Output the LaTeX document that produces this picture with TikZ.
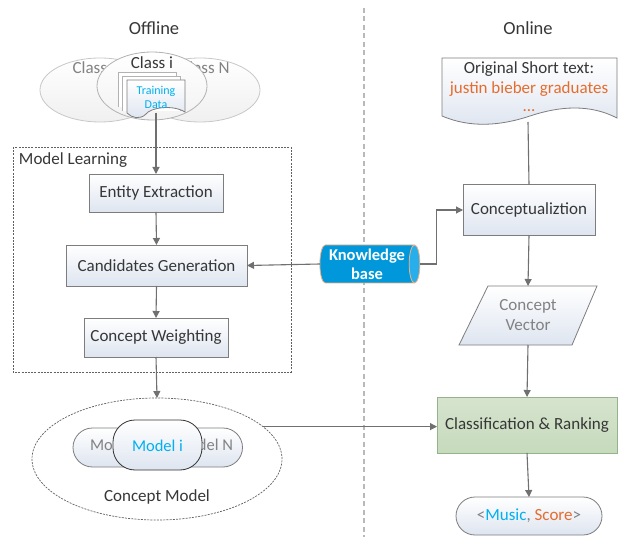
\documentclass[tikz,border=0pt]{standalone}
\usepackage{fontspec}
\setmainfont{Carlito}
\usetikzlibrary{arrows.meta,shapes.geometric}
\definecolor{ln}{RGB}{112,112,112}
\definecolor{bd}{RGB}{125,125,125}
\definecolor{boxbot}{RGB}{222,229,240}
\definecolor{txt}{RGB}{55,55,55}
\definecolor{gtxt}{RGB}{130,130,130}
\definecolor{lblue}{RGB}{0,176,240}
\definecolor{orng}{RGB}{230,108,45}
\definecolor{greenfill}{RGB}{214,228,206}
\definecolor{greenbot}{RGB}{198,218,188}
\definecolor{greenbd}{RGB}{150,178,140}
\definecolor{kbblue}{RGB}{0,152,218}
\definecolor{kbend}{RGB}{40,175,235}
\definecolor{kbbd}{RGB}{235,175,135}
\definecolor{ellbd}{RGB}{200,200,200}
\begin{document}
\begin{tikzpicture}[x=1pt,y=-1pt,
  every node/.style={inner sep=0pt, outer sep=0pt},
  big/.style={font=\fontsize{17}{20}\selectfont},
  flowbox/.style={draw=bd, line width=0.9pt, top color=white, bottom color=boxbot, rectangle, big, text=txt},
  arr/.style={draw=ln, line width=1.1pt, -{Triangle[length=7pt,width=7pt]}},
  plain/.style={draw=ln, line width=1.1pt},
  softell/.style={ellipse, draw=ellbd, line width=0.8pt, top color=white, bottom color=gray!12},
  pill/.style={draw=bd, line width=0.8pt, top color=white, bottom color=boxbot, rounded corners=#1},
  dashframe/.style={draw=gray!75!black, line width=0.7pt, dash pattern=on 2pt off 1.2pt}
]
\useasboundingbox (0,0) rectangle (621,537);
\fill[white] (0,0) rectangle (621,537);

% headers and separator
\node[font=\fontsize{18.5}{20}\selectfont, text=txt] (off) at (154,28) {Offline};
\node[font=\fontsize{18.5}{20}\selectfont, text=txt] (on) at (528,28) {Online};
\draw[draw=gray!55, line width=1.3pt, dash pattern=on 5pt off 3.5pt] (364,8) -- (364,537);

% classes
\node[softell, minimum width=120, minimum height=64] (c1) at (100,90) {};
\node[softell, minimum width=120, minimum height=64] (cn) at (200,90) {};
\node[font=\fontsize{17}{20}\selectfont, text=gtxt] (c1t) at (96,68) {Class 1};
\node[font=\fontsize{17}{20}\selectfont, text=gtxt] (cnt) at (205,68) {Class N};
\node[ellipse, draw=gray!60, line width=0.8pt, top color=white, bottom color=gray!10, minimum width=110, minimum height=68] (ci) at (152,86) {};
\node[font=\fontsize{17}{20}\selectfont, text=txt] (cit) at (152,63) {Class i};

% training data (multiple documents)
\draw[draw=gray!60, fill=white, line width=0.7pt] (118,107) -- (118,72) -- (176,72) -- (176,107);
\draw[draw=gray!60, fill=white, line width=0.7pt] (122,111) -- (122,76) -- (180,76) -- (180,111);
\draw[draw=bd, line width=0.8pt, top color=white, bottom color=boxbot]
  (127,80) -- (185,80) -- (185,112) .. controls (172,104) and (150,108) .. (146,114) .. controls (140,120) and (132,118) .. (127,113) -- cycle;
\node[font=\fontsize{12}{14}\selectfont, text=lblue, align=center] (td) at (156,97) {Training\\Data};
\coordinate (tdb) at (156,113);

% model learning frame
\draw[dashframe] (13,147) rectangle (291,372);
\node[big, text=txt, anchor=west] (mlt) at (19,160) {Model Learning};

\node[flowbox, minimum width=134, minimum height=38] (ent) at (156,193) {Entity Extraction};
\node[flowbox, minimum width=181, minimum height=41] (cand) at (156.5,265.5) {Candidates Generation};
\node[flowbox, minimum width=144, minimum height=39] (cw) at (156,337.5) {Concept Weighting};

% concept model
\node[ellipse, dashframe, minimum width=250, minimum height=122] (cm) at (157,459) {};
\node[pill=19.5, minimum width=90, minimum height=39] (m1) at (118,447.5) {};
\node[pill=19.5, minimum width=87, minimum height=39] (mn) at (199,447.5) {};
\node[font=\fontsize{16.5}{18}\selectfont, text=gtxt, anchor=west] (m1t) at (90,445) {Mo};
\node[font=\fontsize{16.5}{18}\selectfont, text=gtxt, anchor=east] (mnt) at (233,445) {del N};
\node[draw=gray!40!black, line width=0.8pt, top color=white, bottom color=boxbot, rounded corners=22, minimum width=89, minimum height=50] (mi) at (157.5,445) {};
\node[font=\fontsize{16.5}{18}\selectfont, text=lblue] (mit) at (157.5,446) {Model i};
\node[big, text=txt] (cmt) at (157,497) {Concept Model};

% knowledge base
\node[cylinder, draw=kbbd, line width=0.8pt, cylinder uses custom fill, cylinder body fill=kbblue, cylinder end fill=kbend, aspect=0.35, minimum height=100, minimum width=38, font=\bfseries\fontsize{16.5}{19}\selectfont, text=white, align=center] (kb) at (367,264) {Knowledge\\base};

% right side
\draw[draw=bd, line width=0.8pt, top color=white, bottom color=boxbot]
  (442,58) -- (617,58) -- (617,118) .. controls (590,104) and (560,106) .. (530,116) .. controls (500,126) and (470,128) .. (442,116) -- cycle;
\node[big, text=txt] (ost) at (529,69) {Original Short text:};
\node[big, text=orng] (jbg) at (529,89) {justin bieber graduates};
\node[big, text=orng] (dots) at (529,111) {...};
\coordinate (odb) at (528,122);

\node[flowbox, minimum width=132, minimum height=51] (conc) at (529,210) {Conceptualiztion};

\draw[draw=bd, line width=0.8pt, top color=white, bottom color=boxbot] (488,286) -- (597,286) -- (572,345) -- (459,345) -- cycle;
\node[big, text=gtxt, align=center, minimum width=110, minimum height=59] (cv) at (528,315.5) {Concept\\Vector};

\node[draw=greenbd, line width=0.9pt, top color=greenfill, bottom color=greenbot, big, text=txt, minimum width=180, minimum height=56] (cls) at (527,425) {Classification \& Ranking};

\node[pill=19, minimum width=146, minimum height=38, big] (res) at (529,516) {\textcolor{gtxt}{<}\textcolor{lblue}{Music}\textcolor{gtxt}{ , }\textcolor{orng}{Score}\textcolor{gtxt}{>}};

% connectors
\draw[arr] (tdb) -- (ent.north);
\draw[arr] (ent.south) -- (cand.north);
\draw[arr] (cand.south) -- (cw.north);
\draw[arr] (cw.south) -- (cm.north);
\draw[arr] (kb.west) -- (cand.east);
\draw[arr] (kb.east) -- ++(17,0) |- (conc.west);
\draw[plain] (odb) -- (conc.north);
\draw[arr] (conc.south) -- (cv.north);
\draw[arr] (cv.south) -- (cls.north);
\draw[arr] (cm.17) -- (cm.17 -| cls.west);
\draw[arr] (cls.south) -- (res.north);
\end{tikzpicture}
\end{document}
